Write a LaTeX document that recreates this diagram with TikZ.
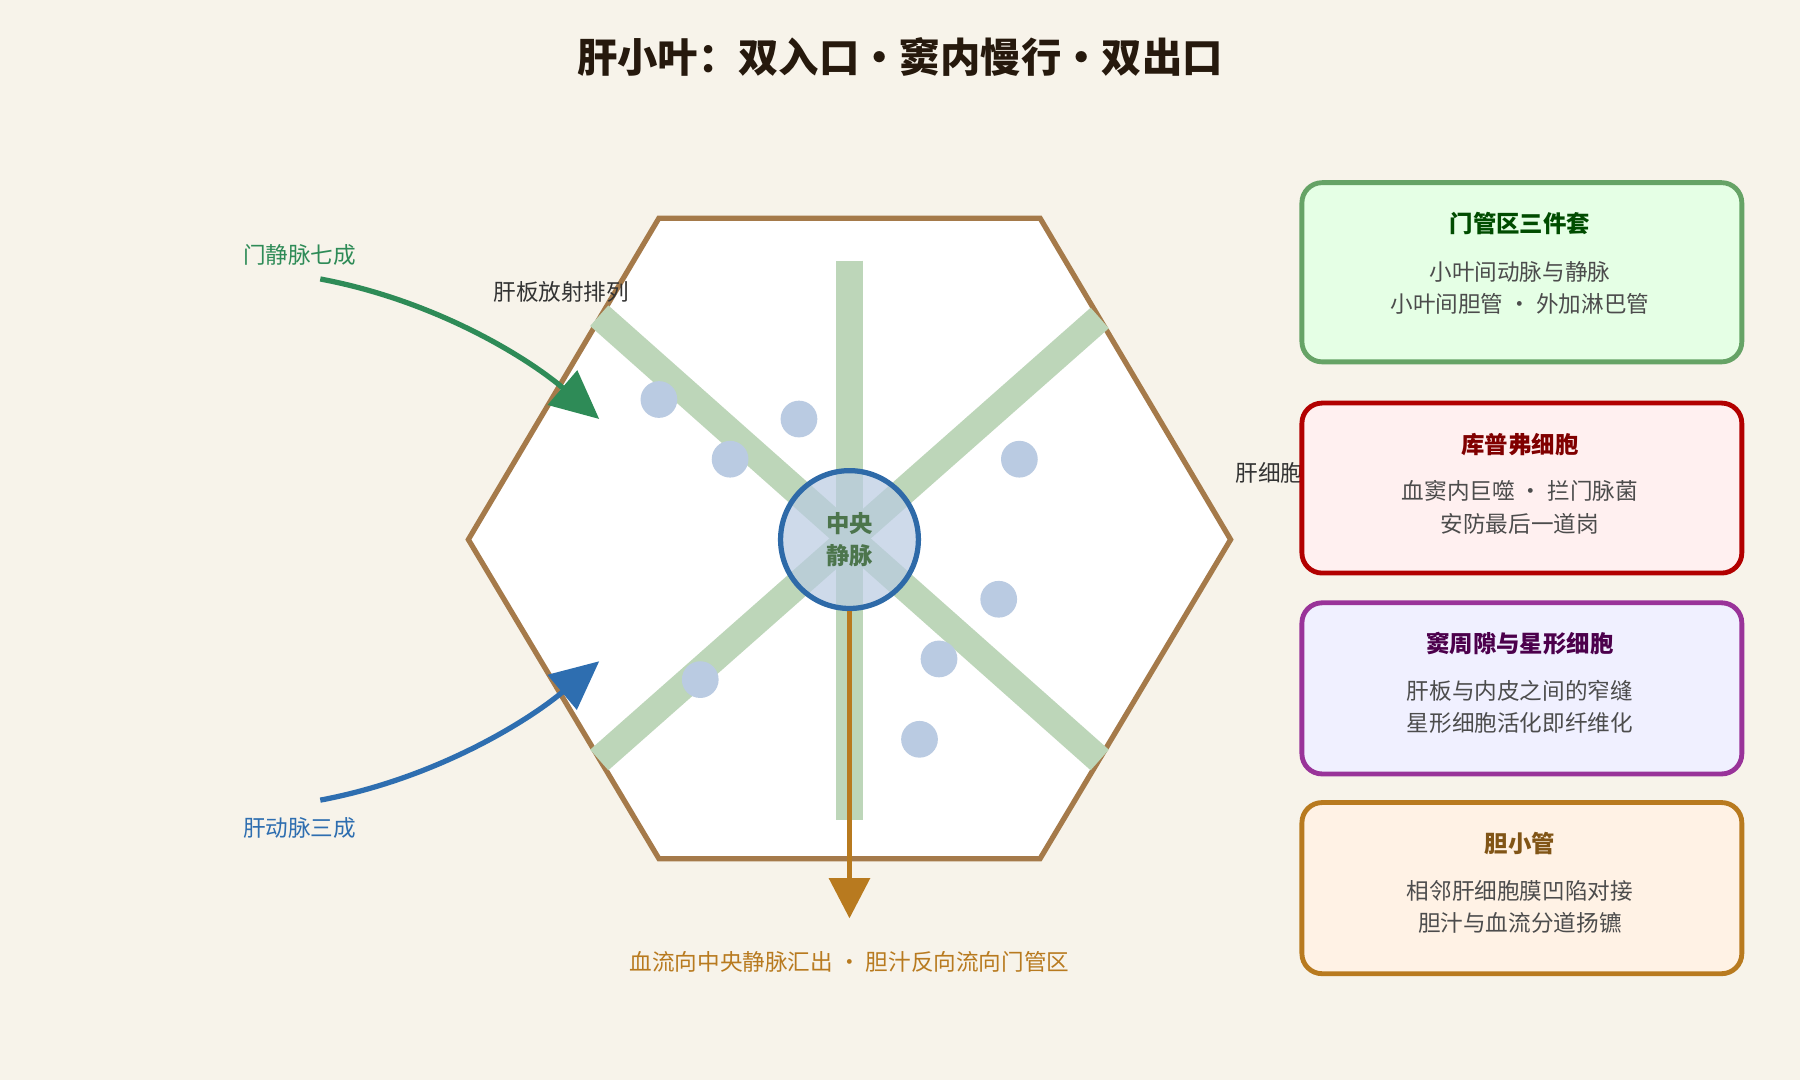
\documentclass[tikz,border=0pt]{standalone}
\usepackage{fontspec}
\setmainfont{Noto Sans CJK SC}
\usetikzlibrary{arrows.meta}
\definecolor{bg}{HTML}{F7F3EA}
\definecolor{hexb}{HTML}{A57A4A}
\definecolor{plate}{HTML}{BDD6B9}
\definecolor{cvb}{HTML}{2E6AA8}
\definecolor{dot}{HTML}{BACBE2}
\definecolor{bile}{HTML}{B87A1F}
\definecolor{pv}{HTML}{2E8B57}
\definecolor{ha}{HTML}{2E6EB0}
\tikzset{
  box/.style={draw, line width=1.2pt, rounded corners=5pt, minimum width=3.83cm, anchor=north west},
  ttl/.style={font=\fontsize{5.8}{7}\selectfont\bfseries},
  txt/.style={font=\fontsize{5.6}{8}\selectfont, text=black!70, align=center},
  plt/.style={plate, line width=6.8pt},
  cell/.style={fill=dot}
}
\begin{document}
\begin{tikzpicture}[x=0.01cm,y=-0.01cm]
\fill[bg] (0,0) rectangle (1568,941);
\node[font=\fontsize{10}{12}\selectfont\bfseries, text=black!80!brown] (title) at (784,50) {肝小叶：双入口·窦内慢行·双出口};
% lobule
\draw[hexb, fill=white, line width=1.3pt] (574,190) -- (906,190) -- (1072,470) -- (906,748) -- (574,748) -- (408,470) -- cycle;
\draw[plt] (740,227) -- (740,714);
\draw[plt] (522,275) -- (958,662);
\draw[plt] (958,277) -- (522,662);
\foreach \px/\py in {574/348,696/365,636/400,888/400,870/522,818/574,610/592,801/644}
  \fill[cell] (\px,\py) circle (16);
\node[circle, draw=cvb, line width=1.3pt, fill=dot, fill opacity=0.7, text opacity=1, minimum size=1.2cm, align=center, text=black!60!green!40!gray, font=\fontsize{5.8}{8}\selectfont\bfseries] (cv) at (740,470) {中央\\静脉};
\node[txt, text=black!80] (plab) at (489,254) {肝板放射排列};
\node[txt, text=black!80] (hlab) at (1106,412) {肝细胞};
% inflow
\node[txt, text=pv] (pvlab) at (261,222) {门静脉七成};
\node[txt, text=ha] (halab) at (261,721) {肝动脉三成};
\coordinate (pvin) at (522,365);
\coordinate (hain) at (522,576);
\draw[pv, line width=1.3pt, -{Triangle[length=12pt,width=11pt]}] (279,243) .. controls (380,262) and (460,312) .. (pvin);
\draw[ha, line width=1.3pt, -{Triangle[length=12pt,width=11pt]}] (279,697) .. controls (380,678) and (460,628) .. (hain);
% outflow
\coordinate (out) at (740,800);
\draw[bile, line width=1.3pt, -{Triangle[length=10pt,width=10pt]}] (cv.south) -- (out);
\node[txt, text=bile] (olab) at (740,838) {血流向中央静脉汇出 · 胆汁反向流向门管区};
% legend boxes
\node[box, draw=green!40!black!60, fill=green!10!white, minimum height=1.56cm] (b1) at (1132,157) {};
\node[ttl, text=green!30!black] at (1324,195) {门管区三件套};
\node[txt] at (1324,251) {小叶间动脉与静脉\\小叶间胆管 · 外加淋巴管};
\node[box, draw=red!70!black, fill=red!6!white, minimum height=1.48cm] (b2) at (1132,349) {};
\node[ttl, text=red!50!black] at (1324,387) {库普弗细胞};
\node[txt] at (1324,442) {血窦内巨噬 · 拦门脉菌\\安防最后一道岗};
\node[box, draw=violet!80, fill=blue!6!white, minimum height=1.49cm] (b3) at (1132,523) {};
\node[ttl, text=violet!60!black] at (1324,561) {窦周隙与星形细胞};
\node[txt] at (1324,616) {肝板与内皮之间的窄缝\\星形细胞活化即纤维化};
\node[box, draw=bile, fill=orange!10!white, minimum height=1.49cm] (b4) at (1132,697) {};
\node[ttl, text=bile!70!black] at (1324,735) {胆小管};
\node[txt] at (1324,790) {相邻肝细胞膜凹陷对接\\胆汁与血流分道扬镳};
\end{tikzpicture}
\end{document}
